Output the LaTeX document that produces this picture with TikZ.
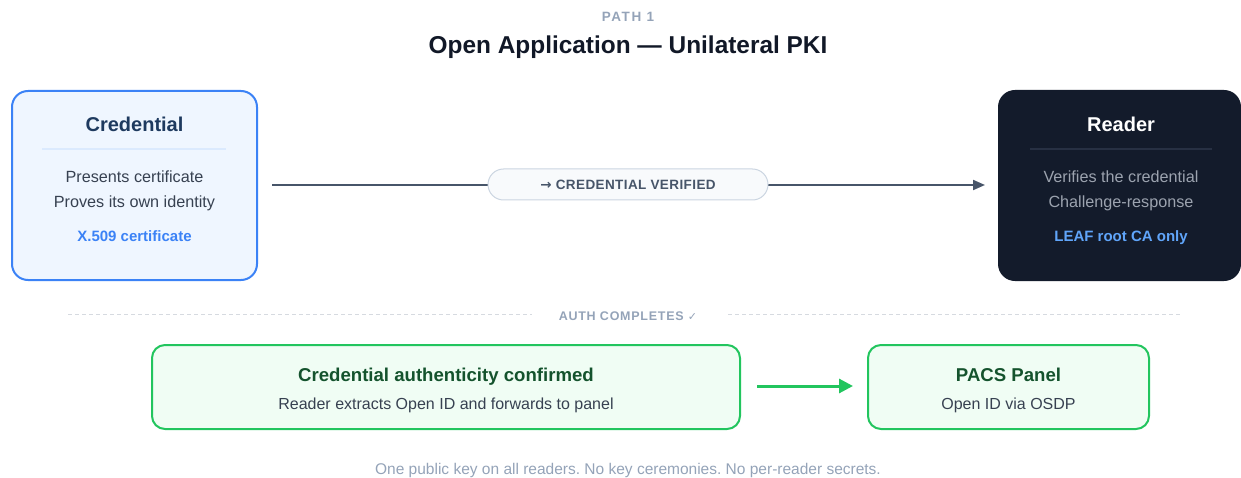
\documentclass[tikz,border=0pt]{standalone}
\usepackage{fontspec}
\setmainfont{Liberation Sans}
\newfontfamily\symf{DejaVu Sans}
\usetikzlibrary{arrows.meta}
\frenchspacing
\definecolor{credborder}{HTML}{3B82F6}
\definecolor{credfill}{HTML}{EFF6FF}
\definecolor{navy}{HTML}{1E3A5F}
\definecolor{bodytxt}{HTML}{374151}
\definecolor{divblue}{HTML}{DBEAFE}
\definecolor{readerfill}{HTML}{131B2B}
\definecolor{readerdiv}{HTML}{273043}
\definecolor{readertxt}{HTML}{9CA3AF}
\definecolor{lightblue}{HTML}{60A5FA}
\definecolor{slate}{HTML}{475569}
\definecolor{pillfill}{HTML}{F8FAFC}
\definecolor{pillborder}{HTML}{CBD5E1}
\definecolor{muted}{HTML}{94A3B8}
\definecolor{dashc}{HTML}{D6DAE0}
\definecolor{gfill}{HTML}{F0FDF4}
\definecolor{gborder}{HTML}{22C55E}
\definecolor{gdark}{HTML}{14532D}
\definecolor{titlec}{HTML}{111827}
\tikzset{
  x=1pt,y=-1pt,
  txt/.style={inner sep=0pt, anchor=base},
  card/.style={rounded corners=16pt, line width=2pt},
  gcard/.style={rounded corners=13pt, line width=2pt, draw=gborder, fill=gfill},
}
\begin{document}
\begin{tikzpicture}
\useasboundingbox (0,0) rectangle (1241,478);
% header
\node[txt, text=muted, font=\bfseries\fontsize{13.5}{15}\selectfont\addfontfeature{LetterSpace=12}] (path) at (628,22) {PATH 1};
\node[txt, text=titlec, font=\bfseries\fontsize{24.4}{28}\selectfont] (title) at (628,54) {Open Application — Unilateral PKI};
% credential card
\draw[card, draw=credborder, fill=credfill] (12,91) rectangle (257,280);
\node[txt, text=navy, font=\bfseries\fontsize{20}{22}\selectfont] (credt) at (134.5,132) {Credential};
\draw[divblue, line width=1.5pt] (42,149) -- (226,149);
\node[txt, text=bodytxt, font=\fontsize{16.2}{18}\selectfont] (c1) at (134.5,183) {Presents certificate};
\node[txt, text=bodytxt, font=\fontsize{16.2}{18}\selectfont] (c2) at (134.5,208) {Proves its own identity};
\node[txt, text=credborder, font=\bfseries\fontsize{15}{16}\selectfont] (c3) at (134.5,241) {X.509 certificate};
\coordinate (credE) at (272,185);
% reader card
\draw[card, draw=readerfill, fill=readerfill] (999,91) rectangle (1240,280);
\node[txt, text=white, font=\bfseries\fontsize{20}{22}\selectfont] (readt) at (1121,132) {Reader};
\draw[readerdiv, line width=1.5pt] (1030,149) -- (1212,149);
\node[txt, text=readertxt, font=\fontsize{16.2}{18}\selectfont] (r1) at (1121,183) {Verifies the credential};
\node[txt, text=readertxt, font=\fontsize{16.2}{18}\selectfont] (r2) at (1121,208) {Challenge-response};
\node[txt, text=lightblue, font=\bfseries\fontsize{15}{16}\selectfont] (r3) at (1121,241) {LEAF root CA only};
\coordinate (readW) at (985,185);
% arrow with pill
\draw[slate, line width=2pt, -{Triangle[length=12pt,width=10pt]}] (credE) -- (readW);
\node[draw=pillborder, fill=pillfill, line width=1pt, rounded corners=15.5pt, minimum width=280pt, minimum height=31pt, inner sep=0pt] (pill) at (628,184.5) {};
\node[txt, text=slate, font=\bfseries\fontsize{13.5}{15}\selectfont\addfontfeature{LetterSpace=3}] (pillt) at (628,190) {{\symf\bfseries →} CREDENTIAL VERIFIED};
% auth completes divider
\coordinate (dl1) at (68,314);
\coordinate (dl2) at (532,314);
\coordinate (dr1) at (728,314);
\coordinate (dr2) at (1182,314);
\draw[dashc, line width=1pt, dash pattern=on 4pt off 3pt] (dl1) -- (dl2);
\draw[dashc, line width=1pt, dash pattern=on 4pt off 3pt] (dr1) -- (dr2);
\node[txt, text=muted, font=\bfseries\fontsize{12.5}{14}\selectfont\addfontfeature{LetterSpace=6}] (auth) at (628,320) {AUTH COMPLETES {\symf\mdseries\fontsize{11}{12}\selectfont ✓}};
% green cards
\draw[gcard] (152,345) rectangle (740,429);
\node[txt, text=gdark, font=\bfseries\fontsize{18.6}{20}\selectfont] (g1t) at (446,381) {Credential authenticity confirmed};
\node[txt, text=bodytxt, font=\fontsize{16}{18}\selectfont] (g1s) at (446,409) {Reader extracts Open ID and forwards to panel};
\coordinate (g1E) at (757,386);
\draw[gcard] (868,345) rectangle (1149,429);
\node[txt, text=gdark, font=\bfseries\fontsize{18.6}{20}\selectfont] (g2t) at (1008.5,381) {PACS Panel};
\node[txt, text=bodytxt, font=\fontsize{16}{18}\selectfont] (g2s) at (1008.5,409) {Open ID via OSDP};
\coordinate (g2W) at (853,386);
\draw[gborder, line width=3pt, -{Triangle[length=14pt,width=14pt]}] (g1E) -- (g2W);
% footer
\node[txt, text=muted, font=\fontsize{15.5}{17}\selectfont] (foot) at (628,474) {One public key on all readers. No key ceremonies. No per-reader secrets.};
\end{tikzpicture}
\end{document}
